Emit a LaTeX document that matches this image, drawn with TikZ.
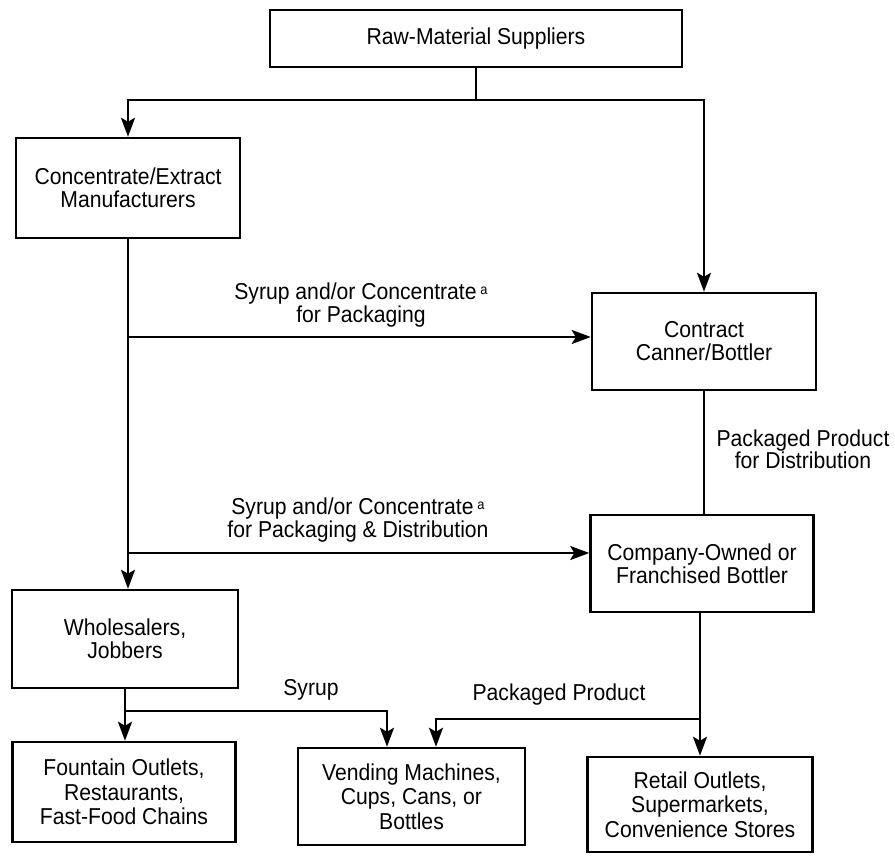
\documentclass[tikz,border=0pt]{standalone}
\usepackage{fontspec}
\setmainfont{Liberation Sans}[FakeStretch=0.92]
\usetikzlibrary{arrows.meta,calc}
\newcommand{\supa}{\,\raisebox{5pt}{\fontsize{14}{14}\selectfont a}}
\tikzset{
  box/.style={draw=black, line width=2.5pt, inner sep=0pt, align=center,
    font={\fontsize{23}{23}\selectfont}},
  lbl/.style={inner sep=0pt, align=center, font={\fontsize{23}{21}\selectfont}},
  conn/.style={draw=black, line width=2.5pt},
  arr/.style={conn, -{Stealth[length=19pt,width=14pt,inset=4pt]}}
}
\begin{document}
\begin{tikzpicture}[x=1pt,y=-1pt]
\useasboundingbox (0,0) rectangle (895,855);
% boxes
\node[box, minimum width=412pt, minimum height=57pt] (raw) at (476,38.5) {Raw-Material Suppliers};
\node[box, minimum width=224pt, minimum height=100pt] (conc) at (128,188) {Concentrate/Extract\\Manufacturers};
\node[box, minimum width=224pt, minimum height=97pt] (contract) at (704,341.5) {Contract\\Canner/Bottler};
\node[box, minimum width=223pt, minimum height=97pt] (company) at (702,563.5) {Company-Owned or\\Franchised Bottler};
\node[box, minimum width=226pt, minimum height=98pt] (whole) at (125,639) {Wholesalers,\\Jobbers};
\node[box, minimum width=223pt, minimum height=100pt, font={\fontsize{23}{24.5}\selectfont}] (fountain) at (124,792) {Fountain Outlets,\\Restaurants,\\Fast-Food Chains};
\node[box, minimum width=227pt, minimum height=97pt, font={\fontsize{23}{24.5}\selectfont}] (vending) at (411.5,796.5) {Vending Machines,\\Cups, Cans, or\\Bottles};
\node[box, minimum width=225pt, minimum height=95pt, font={\fontsize{23}{24.5}\selectfont}] (retail) at (700,804.5) {Retail Outlets,\\Supermarkets,\\Convenience Stores};
% labels
\node[lbl] (l1) at (361,305) {Syrup and/or Concentrate\supa\\for Packaging};
\node[lbl] (l2) at (358,520) {Syrup and/or Concentrate\supa\\for Packaging \& Distribution};
\node[lbl] (l3) at (803,449) {Packaged Product\\for Distribution};
\node[lbl] (l4) at (311,690) {Syrup};
\node[lbl] (l5) at (559,695) {Packaged Product};
% coordinates
\coordinate (j0) at (476,100);
\coordinate (s1) at (128,337);
\coordinate (s2) at (128,553);
\coordinate (j1) at (125,711);
\coordinate (j2) at (700,719);
\coordinate (v1) at ([xshift=-24.5pt]vending.north);
\coordinate (v2) at ([xshift=24.5pt]vending.north);
% connectors
\draw[conn] (raw.south) -- (j0);
\draw[arr] (j0) -| (conc.north);
\draw[arr] (j0) -| (contract.north);
\draw[arr] (conc.south) -- (conc.south |- whole.north);
\draw[arr] (s1) -- (s1 -| contract.west);
\draw[arr] (s2) -- (s2 -| company.west);
\draw[conn] (contract.south) -- (contract.south |- company.north);
\draw[arr] (whole.south) -- (whole.south |- fountain.north);
\draw[arr] (j1) -| (v1);
\draw[arr] (company.south -| j2) -- (j2 |- retail.north);
\draw[arr] (j2) -| (v2);
\end{tikzpicture}
\end{document}
